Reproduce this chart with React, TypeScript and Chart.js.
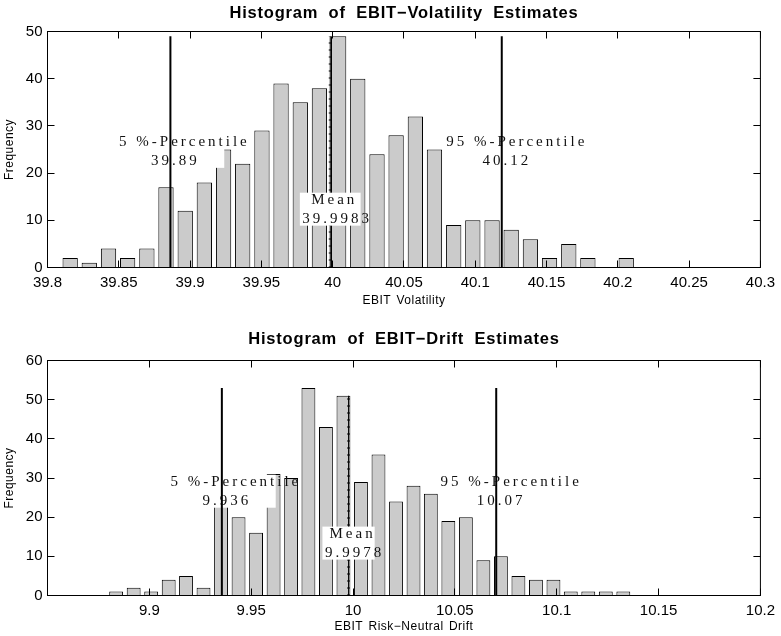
import React, { useEffect, useRef } from "react";
import { Chart, registerables } from "chart.js";

Chart.register(...registerables);

const SANS = '"Liberation Sans", Arial, Helvetica, sans-serif';
const SERIF = '"Liberation Serif", "Times New Roman", serif';

// ---- EBIT volatility estimates (30 bins) ----
const volBinCenters = [
  39.8159, 39.8293, 39.8428, 39.8562, 39.8697, 39.8831, 39.8966, 39.91, 39.9235, 39.9369,
  39.9504, 39.9638, 39.9773, 39.9907, 40.0042, 40.0176, 40.0311, 40.0445, 40.058, 40.0714,
  40.0849, 40.0983, 40.1118, 40.1252, 40.1387, 40.1521, 40.1656, 40.179, 40.1924, 40.2059,
];
const volCounts = [
  2, 1, 4, 2, 4, 17, 12, 18, 25, 22, 29, 39, 35, 38, 49, 40, 24, 28, 32, 25, 9, 10, 10, 8, 6,
  2, 5, 2, 0, 2,
];
const volPercentile05 = 39.8862;
const volPercentile95 = 40.1186;
const volMean = 39.9983;
const volXRange = [39.8, 40.3];
const volYMax = 50;

// ---- EBIT risk-neutral drift estimates (30 bins) ----
const driftBinCenters = [
  9.8837, 9.8923, 9.9009, 9.9095, 9.918, 9.9266, 9.9352, 9.9438, 9.9524, 9.961, 9.9696,
  9.9781, 9.9867, 9.9953, 10.0039, 10.0125, 10.0211, 10.0297, 10.0382, 10.0468, 10.0554,
  10.064, 10.0726, 10.0812, 10.0898, 10.0984, 10.1069, 10.1155, 10.1241, 10.1327,
];
const driftCounts = [
  1, 2, 1, 4, 5, 2, 23, 20, 16, 31, 30, 53, 43, 51, 29, 36, 24, 28, 26, 19, 20, 9, 10, 5, 4,
  4, 1, 1, 1, 1,
];
const driftPercentile05 = 9.9356;
const driftPercentile95 = 10.0703;
const driftMean = 9.9978;
const driftXRange = [9.85, 10.2];
const driftYMax = 60;
const driftHiddenXLabels = ["9.85"];

const xTickStep = 0.05;
const yTickStep = 10;

type Panel = {
  title: string;
  xTitle: string;
  centers: number[];
  counts: number[];
  p05: number;
  p95: number;
  mean: number;
  xRange: number[];
  yMax: number;
  hiddenX: string[];
  padTop: number;
  xAxisHeight: number;
  titleGap: number;
  xTitleGap: number;
};

const volPanel: Panel = {
  title: "Histogram of EBIT\u2212Volatility Estimates",
  xTitle: "EBIT Volatility",
  centers: volBinCenters,
  counts: volCounts,
  p05: volPercentile05,
  p95: volPercentile95,
  mean: volMean,
  xRange: volXRange,
  yMax: volYMax,
  hiddenX: [],
  padTop: 31.5,
  xAxisHeight: 50.5,
  titleGap: 13.2,
  xTitleGap: 36,
};

const driftPanel: Panel = {
  title: "Histogram of EBIT\u2212Drift Estimates",
  xTitle: "EBIT Risk\u2212Neutral Drift",
  centers: driftBinCenters,
  counts: driftCounts,
  p05: driftPercentile05,
  p95: driftPercentile95,
  mean: driftMean,
  xRange: driftXRange,
  yMax: driftYMax,
  hiddenX: driftHiddenXLabels,
  padTop: 42.5,
  xAxisHeight: 40.5,
  titleGap: 16.2,
  xTitleGap: 34.5,
};

const fmt = (v: number) => String(Number(Number(v).toFixed(4)));

// Boxed annotations, frame with inward ticks, and the titles.
const histDecor = {
  id: "histDecor",
  afterDatasetDraw(chart: any, args: any, opts: any) {
    const ds = chart.data.datasets[args.index];
    if (ds.label !== "Mean ticks") return;
    const ctx = chart.ctx;
    const xs = chart.scales.x;
    const ys = chart.scales.y;
    ctx.save();
    ctx.font = `15px ${SERIF}`;
    ctx.textBaseline = "middle";
    ctx.textAlign = "left";
    for (const lab of opts.labels) {
      const cx = xs.getPixelForValue(lab.x);
      const cy = ys.getPixelForValue(lab.y);
      ctx.letterSpacing = "0px";
      const widths = lab.lines.map((t: string) => ctx.measureText(t).width + t.length);
      const half = Math.max(...widths) / 2 + 2.5;
      const lineGap = 19;
      const n = lab.lines.length;
      const firstY = cy - ((n - 1) * lineGap) / 2;
      ctx.fillStyle = "#ffffff";
      ctx.fillRect(cx - half, firstY - 7.5, 2 * half, (n - 1) * lineGap + 14);
      ctx.fillStyle = "#111111";
      ctx.letterSpacing = "3px";
      lab.lines.forEach((t: string, i: number) => {
        ctx.fillText(t, cx - widths[i] / 2, firstY + i * lineGap);
      });
    }
    ctx.restore();
  },
  afterDraw(chart: any, _args: any, opts: any) {
    const ctx = chart.ctx;
    const { left, right, top, bottom } = chart.chartArea;
    const xs = chart.scales.x;
    const ys = chart.scales.y;
    ctx.save();
    ctx.strokeStyle = "#000";
    ctx.lineWidth = 1;
    ctx.strokeRect(left, top, right - left, bottom - top);
    const tl = 7;
    ctx.beginPath();
    xs.ticks.forEach((t: any) => {
      const px = Math.floor(xs.getPixelForValue(t.value)) + 0.5;
      ctx.moveTo(px, bottom);
      ctx.lineTo(px, bottom - tl);
      ctx.moveTo(px, top);
      ctx.lineTo(px, top + tl);
    });
    ys.ticks.forEach((t: any) => {
      const py = Math.floor(ys.getPixelForValue(t.value)) + 0.5;
      ctx.moveTo(left, py);
      ctx.lineTo(left + tl, py);
      ctx.moveTo(right, py);
      ctx.lineTo(right - tl, py);
    });
    ctx.stroke();

    ctx.fillStyle = "#000";
    ctx.textAlign = "center";
    ctx.textBaseline = "alphabetic";
    const cx = (left + right) / 2;
    ctx.font = `bold 16.5px ${SANS}`;
    ctx.letterSpacing = "0.8px";
    ctx.wordSpacing = "5px";
    ctx.fillText(opts.title, cx, top - opts.titleGap);

    ctx.font = `12px ${SANS}`;
    ctx.letterSpacing = "0.5px";
    ctx.wordSpacing = "1.5px";
    ctx.fillText(opts.xTitle, cx, bottom + opts.xTitleGap);

    ctx.translate(12.5, (top + bottom) / 2);
    ctx.rotate(-Math.PI / 2);
    ctx.fillText("Frequency", 0, 0);
    ctx.restore();
  },
};

function buildConfig(p: Panel): any {
  const peak = Math.max(...p.counts);
  let meanIdx = 0;
  p.centers.forEach((c, i) => {
    if (Math.abs(c - p.mean) < Math.abs(p.centers[meanIdx] - p.mean)) meanIdx = i;
  });
  const meanTop = p.counts[meanIdx];
  const vline = (x: number, h: number) => [
    { x, y: 0 },
    { x, y: h },
  ];
  const tickFont = { family: SANS, size: 15 };
  return {
    type: "bar",
    data: {
      datasets: [
        {
          type: "line",
          label: "5 % percentile",
          data: vline(p.p05, peak),
          borderColor: "#000",
          borderWidth: 2,
          pointRadius: 0,
          order: 1,
        },
        {
          type: "line",
          label: "95 % percentile",
          data: vline(p.p95, peak),
          borderColor: "#000",
          borderWidth: 2,
          pointRadius: 0,
          order: 1,
        },
        {
          type: "line",
          label: "Mean ticks",
          data: vline(p.mean, meanTop),
          borderColor: "#000",
          borderWidth: 3,
          borderDash: [1, 6],
          pointRadius: 0,
          order: 4,
        },
        {
          type: "line",
          label: "Mean",
          data: vline(p.mean, meanTop),
          borderColor: "#000",
          borderWidth: 1,
          pointRadius: 0,
          order: 5,
        },
        {
          type: "bar",
          label: "Frequency",
          data: p.centers.map((x, i) => ({ x, y: p.counts[i] })),
          backgroundColor: "#cbcbcb",
          borderColor: "#000",
          borderWidth: 1,
          barPercentage: 0.8,
          categoryPercentage: 1,
          order: 10,
        },
      ],
    },
    options: {
      responsive: false,
      animation: false,
      events: [],
      layout: { padding: { top: p.padTop, right: 19.5, left: 0, bottom: 0 } },
      plugins: {
        legend: { display: false },
        tooltip: { enabled: false },
        title: { display: false },
        histDecor: {
          title: p.title,
          xTitle: p.xTitle,
          titleGap: p.titleGap,
          xTitleGap: p.xTitleGap,
          labels: [
            { x: p.p05, y: peak / 2, lines: ["5 %-Percentile", p.p05.toPrecision(4)] },
            { x: p.p95, y: peak / 2, lines: ["95 %-Percentile", p.p95.toPrecision(4)] },
            { x: p.mean, y: peak / 4, lines: ["Mean", String(p.mean)] },
          ],
        },
      },
      scales: {
        x: {
          type: "linear",
          min: p.xRange[0],
          max: p.xRange[1],
          offset: false,
          grid: { display: false, drawTicks: false, offset: false },
          border: { display: false },
          ticks: {
            stepSize: xTickStep,
            autoSkip: false,
            maxRotation: 0,
            minRotation: 0,
            padding: 6,
            color: "#000",
            font: tickFont,
            callback: (v: number) => {
              const s = fmt(v);
              return p.hiddenX.includes(s) ? "" : s;
            },
          },
          afterFit: (s: any) => {
            s.height = p.xAxisHeight;
          },
        },
        y: {
          type: "linear",
          min: 0,
          max: p.yMax,
          grid: { display: false, drawTicks: false },
          border: { display: false },
          ticks: {
            stepSize: yTickStep,
            padding: 5,
            color: "#000",
            font: tickFont,
            callback: (v: number) => fmt(v),
          },
          afterFit: (s: any) => {
            s.width = 47.5;
          },
        },
      },
    },
    plugins: [histDecor],
  };
}

function HistogramPanel({ panel }: { panel: Panel }) {
  const ref = useRef<HTMLCanvasElement>(null);
  useEffect(() => {
    const chart = new Chart(ref.current as HTMLCanvasElement, buildConfig(panel));
    return () => chart.destroy();
  }, [panel]);
  return (
    <canvas
      ref={ref}
      width={781}
      height={318}
      style={{ display: "block", width: 781, height: 318 }}
    />
  );
}

export default function App() {
  return (
    <div
      style={{
        position: "absolute",
        left: 0,
        top: 0,
        width: 781,
        height: 636,
        background: "#ffffff",
      }}
    >
      <HistogramPanel panel={volPanel} />
      <HistogramPanel panel={driftPanel} />
    </div>
  );
}
